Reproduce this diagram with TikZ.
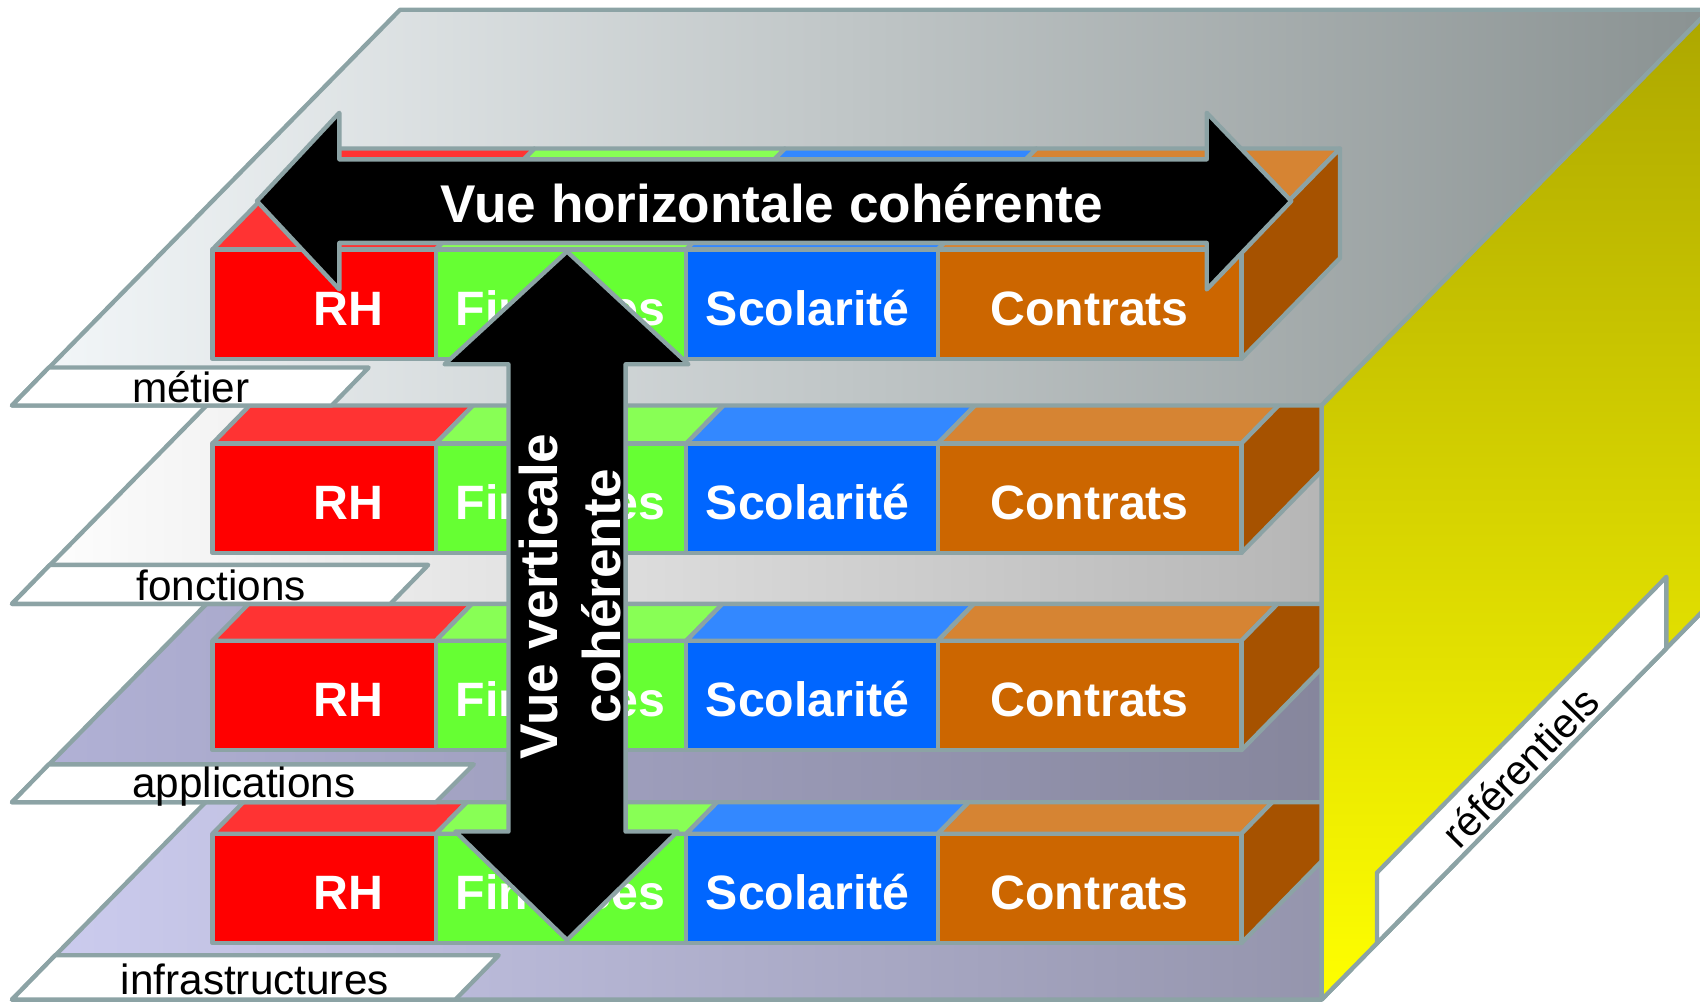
\documentclass[tikz,border=0pt]{standalone}
\usepackage{fontspec}
\setmainfont{Liberation Sans}
\definecolor{edgegray}{RGB}{140,163,165}
\definecolor{rhfront}{RGB}{255,0,0}
\definecolor{rhtop}{RGB}{255,51,51}
\definecolor{fifront}{RGB}{102,255,51}
\definecolor{fitop}{RGB}{136,255,85}
\definecolor{scfront}{RGB}{0,102,255}
\definecolor{sctop}{RGB}{51,136,255}
\definecolor{cofront}{RGB}{204,102,0}
\definecolor{cotop}{RGB}{214,132,51}
\definecolor{coside}{RGB}{166,82,0}
\newcommand{\brickrow}[2]{%
  \filldraw[edge, fill=rhtop] (196,#1) -- (402,#1) -- (493,#1-93) -- (287,#1-93) -- cycle;
  \filldraw[edge, fill=fitop] (402,#1) -- (633,#1) -- (724,#1-93) -- (493,#1-93) -- cycle;
  \filldraw[edge, fill=sctop] (633,#1) -- (865,#1) -- (956,#1-93) -- (724,#1-93) -- cycle;
  \filldraw[edge, fill=cotop] (865,#1) -- (1145,#1) -- (1236,#1-93) -- (956,#1-93) -- cycle;
  \filldraw[edge, fill=coside] (1145,#1) -- (1236,#1-93) -- (1236,#1+8) -- (1145,#1+101) -- cycle;
  \node[brick, fill=rhfront, minimum width=206pt] (rh#2) at (196,#1) {};
  \node[brick, fill=fifront, minimum width=231pt] (fi#2) at (402,#1) {};
  \node[brick, fill=scfront, minimum width=232pt] (sc#2) at (633,#1) {};
  \node[brick, fill=cofront, minimum width=280pt] (co#2) at (865,#1) {};
  \node[bricktext] (rh#2t) at (321,#1+70) {RH};
  \node[bricktext] (fi#2t) at (517,#1+70) {Finances};
  \node[bricktext] (sc#2t) at (745,#1+70) {Scolarité};
  \node[bricktext] (co#2t) at (1005,#1+70) {Contrats};
}
\begin{document}
\begin{tikzpicture}[x=1pt,y=-1pt,line join=round,
  edge/.style={draw=edgegray,line width=4pt},
  brick/.style={edge, anchor=north west, minimum height=101pt, inner sep=0pt, outer sep=0pt},
  bricktext/.style={anchor=base, text=white, font=\fontsize{44.5}{50}\selectfont\bfseries, inner sep=0pt},
  layertext/.style={anchor=base, text=black, font=\fontsize{39}{45}\selectfont, inner sep=0pt},
  arrowtext/.style={anchor=base, text=white, font=\fontsize{49}{55}\selectfont\bfseries, inner sep=0pt},
  tab/.style={edge, fill=white}]
\useasboundingbox (0,0) rectangle (1568,926);
\clip (0,0) rectangle (1568,926);

% infrastructures plane
\shadedraw[edge, left color={rgb,255:red,205;green,205;blue,240}, right color={rgb,255:red,132;green,132;blue,153}]
  (11,922) -- (1219,922) -- (1577,557) -- (369,557) -- cycle;
\filldraw[tab] (11,922) -- (51,881) -- (460,881) -- (420,922) -- cycle;
\node[layertext] (linfra) at (235,917) {infrastructures};
\brickrow{769}{4}

% applications plane
\shadedraw[edge, left color={rgb,255:red,178;green,178;blue,215}, right color={rgb,255:red,121;green,121;blue,139}]
  (11,740) -- (1219,740) -- (1577,375) -- (369,375) -- cycle;
\filldraw[tab] (11,740) -- (45,705) -- (437,705) -- (402,740) -- cycle;
\node[layertext] (lappl) at (225,736) {applications};
\brickrow{591}{3}

% fonctions plane
\shadedraw[edge, left color=white, right color={rgb,255:red,160;green,160;blue,160}]
  (11,557) -- (1219,557) -- (1577,192) -- (369,192) -- cycle;
\filldraw[tab] (11,557) -- (46,521) -- (395,521) -- (360,557) -- cycle;
\node[layertext] (lfonc) at (204,554) {fonctions};
\brickrow{409}{2}

% metier plane
\shadedraw[edge, left color={rgb,255:red,244;green,248;blue,250}, right color={rgb,255:red,138;green,146;blue,146}]
  (11,374) -- (1219,374) -- (1577,9) -- (369,9) -- cycle;
\filldraw[tab] (11,374) -- (45,339) -- (340,339) -- (306,374) -- cycle;
\node[layertext] (lmet) at (176,371) {métier};

% referentiels face
\shadedraw[edge, top color={rgb,255:red,172;green,166;blue,0}, bottom color={rgb,255:red,255;green,255;blue,0}]
  (1219,374) -- (1584,2) -- (1584,550) -- (1219,922) -- cycle;
\filldraw[tab] (1270,870) -- (1537,598) -- (1537,532) -- (1270,805) -- cycle;
\node[layertext, font=\fontsize{38}{44}\selectfont, rotate=45.5] (lref) at (1412,717) {référentiels};

\brickrow{230}{1}

% horizontal arrow
\filldraw[edge, fill=black] (237,185.5) -- (313,104) -- (313,147) -- (1113,147) -- (1113,104)
  -- (1191,185.5) -- (1113,267) -- (1113,224) -- (313,224) -- (313,267) -- cycle;
\node[arrowtext] (htext) at (712,205) {Vue horizontale cohérente};

% vertical arrow
\filldraw[edge, fill=black] (523,232) -- (635,336) -- (577,336) -- (577,767) -- (625,767)
  -- (523,867) -- (420,767) -- (469,767) -- (469,336) -- (410,336) -- cycle;
\node[arrowtext, rotate=90] (vtext1) at (514,550) {Vue verticale};
\node[arrowtext, rotate=90] (vtext2) at (572,550) {cohérente};
\end{tikzpicture}
\end{document}
